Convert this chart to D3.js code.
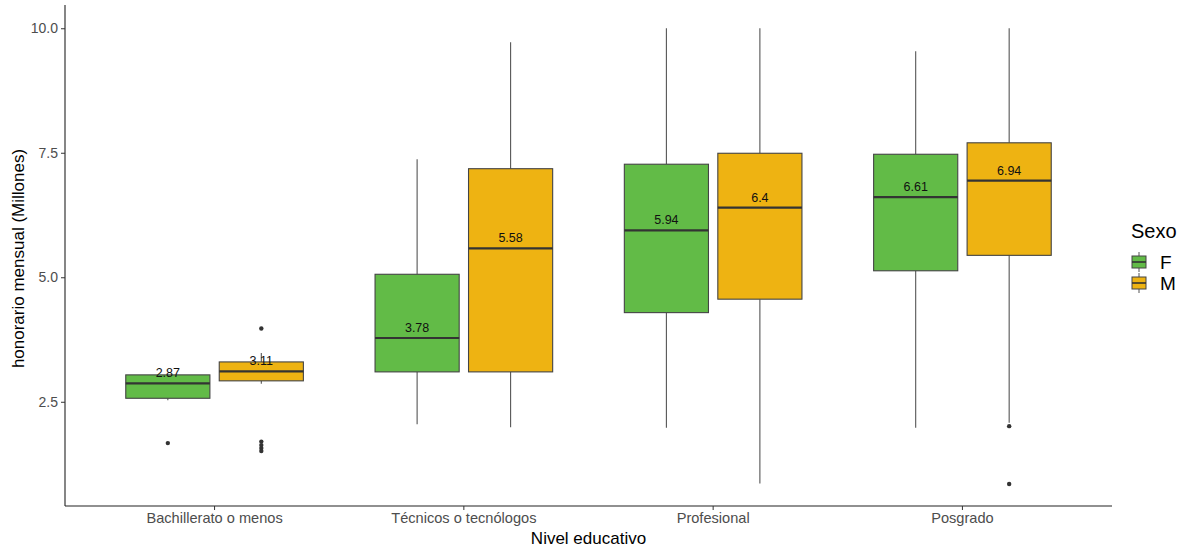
<!DOCTYPE html>
<html>
<head>
<meta charset="utf-8">
<script src="https://cdn.jsdelivr.net/npm/d3@7"></script>
<style>
  html, body { margin: 0; padding: 0; background: #fff; }
  svg { display: block; font-family: "Liberation Sans", Arial, sans-serif; }
</style>
</head>
<body>
<svg id="chart" width="1187" height="550"></svg>
<script>
// Monthly fee (millions) by education level and sex
const niveles = ["Bachillerato o menos", "Técnicos o tecnólogos", "Profesional", "Posgrado"];
const sexos = ["F", "M"];
const colores = ["#62BB47", "#EEB312"];

// Box statistics per level, ordered F then M
const bigoteInf = [[2.53, 2.86], [2.05, 1.99], [1.98, 0.86], [1.98, 2.08]];
const q1        = [[2.57, 2.92], [3.10, 3.10], [4.29, 4.56], [5.13, 5.44]];
const mediana   = [[2.87, 3.11], [3.78, 5.58], [5.94, 6.40], [6.61, 6.94]];
const q3        = [[3.04, 3.30], [5.06, 7.18], [7.27, 7.49], [7.47, 7.70]];
const bigoteSup = [[3.04, 3.48], [7.37, 9.72], [10.00, 10.00], [9.54, 10.00]];
const atipicos  = [[[1.67], [3.97, 1.70, 1.63, 1.57, 1.51]],
                   [[], []],
                   [[], []],
                   [[], [2.01, 0.85]]];
const etiquetas = [["2.87", "3.11"], ["3.78", "5.58"], ["5.94", "6.4"], ["6.61", "6.94"]];

const yTicks = [2.5, 5.0, 7.5, 10.0];

const svg = d3.select("#chart");
const margin = { left: 65, right: 1112, top: 5, bottom: 506 };

const x = d3.scaleBand()
  .domain(niveles)
  .range([margin.left, margin.right])
  .paddingOuter(0.1)
  .paddingInner(0);

const y = d3.scaleLinear()
  .domain([0.407, 10.467])
  .range([margin.bottom, margin.top]);

const unit = x.bandwidth();
const dodge = d3.scaleBand().domain(sexos).range([-0.375 * unit, 0.375 * unit]);
const boxW = 0.3375 * unit;

// boxes
const rows = [];
niveles.forEach((n, i) => sexos.forEach((s, j) => {
  rows.push({
    n, s, j,
    cx: x(n) + unit / 2 + dodge(s) + dodge.bandwidth() / 2,
    lo: bigoteInf[i][j], q1: q1[i][j], med: mediana[i][j], q3: q3[i][j], hi: bigoteSup[i][j],
    out: atipicos[i][j], lab: etiquetas[i][j]
  });
}));

const g = svg.append("g");
const box = g.selectAll("g.box").data(rows).join("g").attr("class", "box");

box.append("line")
  .attr("x1", d => d.cx).attr("x2", d => d.cx)
  .attr("y1", d => y(d.hi)).attr("y2", d => y(d.q3))
  .attr("stroke", "#555").attr("stroke-width", 1.1);
box.append("line")
  .attr("x1", d => d.cx).attr("x2", d => d.cx)
  .attr("y1", d => y(d.q1)).attr("y2", d => y(d.lo))
  .attr("stroke", "#555").attr("stroke-width", 1.1);
box.append("rect")
  .attr("x", d => d.cx - boxW / 2).attr("width", boxW)
  .attr("y", d => y(d.q3)).attr("height", d => y(d.q1) - y(d.q3))
  .attr("fill", d => colores[d.j])
  .attr("stroke", "#444").attr("stroke-width", 1.1);
box.append("line")
  .attr("x1", d => d.cx - boxW / 2).attr("x2", d => d.cx + boxW / 2)
  .attr("y1", d => y(d.med)).attr("y2", d => y(d.med))
  .attr("stroke", "#333").attr("stroke-width", 2.2);
box.selectAll("circle").data(d => d.out.map(v => ({ v, cx: d.cx }))).join("circle")
  .attr("cx", d => d.cx).attr("cy", d => y(d.v)).attr("r", 2.2)
  .attr("fill", "#333");
box.append("text")
  .attr("x", d => d.cx).attr("y", d => y(d.med) - 6)
  .attr("text-anchor", "middle")
  .attr("font-size", 12.5).attr("fill", "#111")
  .text(d => d.lab);

// axes
const yAxis = d3.axisLeft(y).tickValues(yTicks).tickFormat(d3.format(".1f")).tickSize(4).tickPadding(3);
const ya = svg.append("g").attr("transform", `translate(${margin.left},0)`).call(yAxis);
ya.select(".domain").attr("d", `M0,${margin.top}V${margin.bottom}`).attr("stroke", "#222").attr("stroke-width", 1.1);
ya.selectAll(".tick line").attr("stroke", "#333");
ya.selectAll(".tick text").attr("fill", "#4d4d4d").attr("font-size", 14).attr("font-family", "Liberation Sans, Arial, sans-serif");

const xAxis = d3.axisBottom(x).tickSize(4).tickPadding(3);
const xa = svg.append("g").attr("transform", `translate(0,${margin.bottom})`).call(xAxis);
xa.select(".domain").attr("d", `M${margin.left},0H${margin.right}`).attr("stroke", "#222").attr("stroke-width", 1.1);
xa.selectAll(".tick line").attr("stroke", "#333");
xa.selectAll(".tick text").attr("fill", "#4d4d4d").attr("font-size", 14.6).attr("font-family", "Liberation Sans, Arial, sans-serif");

// axis titles
svg.append("text")
  .attr("x", (margin.left + margin.right) / 2).attr("y", 544)
  .attr("text-anchor", "middle").attr("font-size", 17).attr("fill", "#000")
  .text("Nivel educativo");
svg.append("text")
  .attr("transform", `translate(24,${(margin.top + margin.bottom) / 2 + 3}) rotate(-90)`)
  .attr("text-anchor", "middle").attr("font-size", 17).attr("fill", "#000")
  .text("honorario mensual (Millones)");

// legend
const leg = svg.append("g").attr("transform", "translate(1131,0)");
leg.append("text").attr("x", 0).attr("y", 238).attr("font-size", 20).attr("fill", "#000").text("Sexo");
const item = leg.selectAll("g.item").data(sexos).join("g").attr("class", "item")
  .attr("transform", (d, i) => `translate(0,${262 + i * 21})`);
item.append("line").attr("x1", 8).attr("x2", 8).attr("y1", -10).attr("y2", 10)
  .attr("stroke", "#555").attr("stroke-width", 1);
item.append("rect").attr("x", 1).attr("y", -6).attr("width", 14).attr("height", 12)
  .attr("fill", (d, i) => colores[i]).attr("stroke", "#444").attr("stroke-width", 1);
item.append("line").attr("x1", 1).attr("x2", 15).attr("y1", 0).attr("y2", 0)
  .attr("stroke", "#333").attr("stroke-width", 1.6);
item.append("text").attr("x", 29).attr("y", 7).attr("font-size", 19).attr("fill", "#000").text(d => d);
</script>
</body>
</html>
